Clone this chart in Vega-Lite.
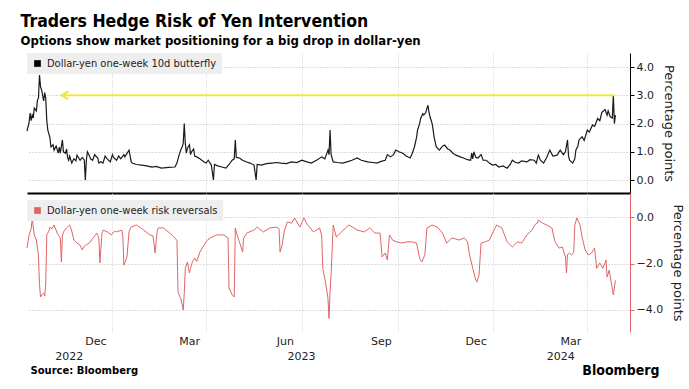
{
  "$schema": "https://vega.github.io/schema/vega-lite/v6.json",
  "padding": {"left": 20, "top": 12, "right": 5, "bottom": 5},
  "background": "#ffffff",
  "title": {
    "text": "Traders Hedge Risk of Yen Intervention",
    "subtitle": "Options show market positioning for a big drop in dollar-yen",
    "anchor": "start",
    "dx": -4,
    "font": "DejaVu Sans Condensed, Liberation Sans Narrow, Roboto",
    "fontSize": 17.5,
    "fontWeight": "bold",
    "color": "#000000",
    "subtitleFont": "DejaVu Sans Condensed, Liberation Sans Narrow, Roboto",
    "subtitleFontSize": 13,
    "subtitleFontWeight": "bold",
    "subtitleColor": "#000000",
    "subtitlePadding": 5,
    "offset": 5
  },
  "datasets": {
    "butterfly": [
      {"date":"2022-09-10","value":1.73},{"date":"2022-09-12","value":2.05},{"date":"2022-09-13","value":2.37},{"date":"2022-09-14","value":2.1},{"date":"2022-09-15","value":2.3},{"date":"2022-09-16","value":2.2},{"date":"2022-09-17","value":2.55},{"date":"2022-09-19","value":2.45},{"date":"2022-09-20","value":2.83},{"date":"2022-09-21","value":2.9},{"date":"2022-09-22","value":3.72},{"date":"2022-09-23","value":3.3},{"date":"2022-09-24","value":3.2},{"date":"2022-09-26","value":2.8},{"date":"2022-09-27","value":3.1},{"date":"2022-09-28","value":2.9},{"date":"2022-09-29","value":2.1},{"date":"2022-09-30","value":1.77},{"date":"2022-10-02","value":1.5},{"date":"2022-10-03","value":1.17},{"date":"2022-10-05","value":1.25},{"date":"2022-10-06","value":1.06},{"date":"2022-10-08","value":1.2},{"date":"2022-10-10","value":0.95},{"date":"2022-10-11","value":1.17},{"date":"2022-10-12","value":0.95},{"date":"2022-10-14","value":1.42},{"date":"2022-10-15","value":1.0},{"date":"2022-10-17","value":0.95},{"date":"2022-10-18","value":1.1},{"date":"2022-10-19","value":0.8},{"date":"2022-10-20","value":0.7},{"date":"2022-10-21","value":0.85},{"date":"2022-10-23","value":0.6},{"date":"2022-10-25","value":0.75},{"date":"2022-10-27","value":0.68},{"date":"2022-10-28","value":0.88},{"date":"2022-10-31","value":0.7},{"date":"2022-11-02","value":0.8},{"date":"2022-11-04","value":0.71},{"date":"2022-11-05","value":0.0},{"date":"2022-11-06","value":0.7},{"date":"2022-11-07","value":1.0},{"date":"2022-11-09","value":0.85},{"date":"2022-11-10","value":0.75},{"date":"2022-11-12","value":0.7},{"date":"2022-11-14","value":0.9},{"date":"2022-11-15","value":0.85},{"date":"2022-11-17","value":0.78},{"date":"2022-11-18","value":0.6},{"date":"2022-11-20","value":0.65},{"date":"2022-11-22","value":0.6},{"date":"2022-11-24","value":0.85},{"date":"2022-11-26","value":0.75},{"date":"2022-11-29","value":0.64},{"date":"2022-12-01","value":0.9},{"date":"2022-12-02","value":0.8},{"date":"2022-12-05","value":0.7},{"date":"2022-12-07","value":0.85},{"date":"2022-12-09","value":0.75},{"date":"2022-12-12","value":0.9},{"date":"2022-12-13","value":0.82},{"date":"2022-12-16","value":1.0},{"date":"2022-12-17","value":1.06},{"date":"2022-12-19","value":0.65},{"date":"2022-12-20","value":0.6},{"date":"2022-12-24","value":0.55},{"date":"2022-12-29","value":0.53},{"date":"2023-01-03","value":0.5},{"date":"2023-01-08","value":0.46},{"date":"2023-01-12","value":0.48},{"date":"2023-01-17","value":0.42},{"date":"2023-01-24","value":0.45},{"date":"2023-01-30","value":0.46},{"date":"2023-02-01","value":0.6},{"date":"2023-02-03","value":0.88},{"date":"2023-02-05","value":1.1},{"date":"2023-02-06","value":1.17},{"date":"2023-02-07","value":1.3},{"date":"2023-02-08","value":2.0},{"date":"2023-02-09","value":1.3},{"date":"2023-02-10","value":0.95},{"date":"2023-02-11","value":1.13},{"date":"2023-02-13","value":1.25},{"date":"2023-02-14","value":0.9},{"date":"2023-02-15","value":1.0},{"date":"2023-02-17","value":1.1},{"date":"2023-02-18","value":0.85},{"date":"2023-02-20","value":0.82},{"date":"2023-02-23","value":0.75},{"date":"2023-02-27","value":0.64},{"date":"2023-03-01","value":0.6},{"date":"2023-03-03","value":0.7},{"date":"2023-03-06","value":0.53},{"date":"2023-03-08","value":0.0},{"date":"2023-03-09","value":0.55},{"date":"2023-03-12","value":0.5},{"date":"2023-03-16","value":0.46},{"date":"2023-03-20","value":0.42},{"date":"2023-03-23","value":0.55},{"date":"2023-03-26","value":0.7},{"date":"2023-03-28","value":0.75},{"date":"2023-03-29","value":1.42},{"date":"2023-03-30","value":0.8},{"date":"2023-04-02","value":0.78},{"date":"2023-04-05","value":0.7},{"date":"2023-04-09","value":0.64},{"date":"2023-04-12","value":0.6},{"date":"2023-04-16","value":0.53},{"date":"2023-04-18","value":0.0},{"date":"2023-04-19","value":0.55},{"date":"2023-04-23","value":0.53},{"date":"2023-04-28","value":0.58},{"date":"2023-05-03","value":0.6},{"date":"2023-05-08","value":0.62},{"date":"2023-05-12","value":0.6},{"date":"2023-05-17","value":0.58},{"date":"2023-05-22","value":0.64},{"date":"2023-05-27","value":0.62},{"date":"2023-06-01","value":0.7},{"date":"2023-06-05","value":0.65},{"date":"2023-06-10","value":0.6},{"date":"2023-06-15","value":0.7},{"date":"2023-06-20","value":0.82},{"date":"2023-06-23","value":0.75},{"date":"2023-06-26","value":1.06},{"date":"2023-06-27","value":0.9},{"date":"2023-06-28","value":1.77},{"date":"2023-06-29","value":0.9},{"date":"2023-07-01","value":0.64},{"date":"2023-07-05","value":0.62},{"date":"2023-07-10","value":0.6},{"date":"2023-07-15","value":0.65},{"date":"2023-07-19","value":0.7},{"date":"2023-07-24","value":0.78},{"date":"2023-07-28","value":0.7},{"date":"2023-08-03","value":0.64},{"date":"2023-08-08","value":0.62},{"date":"2023-08-12","value":0.6},{"date":"2023-08-16","value":0.66},{"date":"2023-08-20","value":0.7},{"date":"2023-08-22","value":0.9},{"date":"2023-08-25","value":0.82},{"date":"2023-08-28","value":0.9},{"date":"2023-08-30","value":1.06},{"date":"2023-09-02","value":1.0},{"date":"2023-09-06","value":0.95},{"date":"2023-09-09","value":0.85},{"date":"2023-09-13","value":0.78},{"date":"2023-09-15","value":0.95},{"date":"2023-09-17","value":1.17},{"date":"2023-09-19","value":1.5},{"date":"2023-09-20","value":1.77},{"date":"2023-09-22","value":2.0},{"date":"2023-09-23","value":2.18},{"date":"2023-09-25","value":2.35},{"date":"2023-09-26","value":2.3},{"date":"2023-09-28","value":2.4},{"date":"2023-09-29","value":2.54},{"date":"2023-09-30","value":2.65},{"date":"2023-10-01","value":2.4},{"date":"2023-10-02","value":2.24},{"date":"2023-10-04","value":2.0},{"date":"2023-10-05","value":1.77},{"date":"2023-10-06","value":1.5},{"date":"2023-10-08","value":1.17},{"date":"2023-10-11","value":1.06},{"date":"2023-10-14","value":1.2},{"date":"2023-10-16","value":1.24},{"date":"2023-10-19","value":1.1},{"date":"2023-10-21","value":1.06},{"date":"2023-10-24","value":0.95},{"date":"2023-10-27","value":0.88},{"date":"2023-10-31","value":0.82},{"date":"2023-11-03","value":0.78},{"date":"2023-11-07","value":0.72},{"date":"2023-11-10","value":0.7},{"date":"2023-11-11","value":0.95},{"date":"2023-11-12","value":0.75},{"date":"2023-11-13","value":1.0},{"date":"2023-11-15","value":0.8},{"date":"2023-11-17","value":0.78},{"date":"2023-11-20","value":0.9},{"date":"2023-11-22","value":0.7},{"date":"2023-11-25","value":0.7},{"date":"2023-11-28","value":0.6},{"date":"2023-12-01","value":0.53},{"date":"2023-12-04","value":0.55},{"date":"2023-12-07","value":0.46},{"date":"2023-12-11","value":0.5},{"date":"2023-12-15","value":0.42},{"date":"2023-12-18","value":0.55},{"date":"2023-12-20","value":0.7},{"date":"2023-12-23","value":0.62},{"date":"2023-12-26","value":0.6},{"date":"2023-12-29","value":0.68},{"date":"2024-01-03","value":0.64},{"date":"2024-01-06","value":0.72},{"date":"2024-01-10","value":0.7},{"date":"2024-01-12","value":0.6},{"date":"2024-01-14","value":0.88},{"date":"2024-01-16","value":0.7},{"date":"2024-01-19","value":0.6},{"date":"2024-01-22","value":0.8},{"date":"2024-01-25","value":1.06},{"date":"2024-01-28","value":0.85},{"date":"2024-02-01","value":0.88},{"date":"2024-02-04","value":1.06},{"date":"2024-02-07","value":0.9},{"date":"2024-02-09","value":1.0},{"date":"2024-02-11","value":1.42},{"date":"2024-02-12","value":0.85},{"date":"2024-02-13","value":0.7},{"date":"2024-02-16","value":0.6},{"date":"2024-02-18","value":0.75},{"date":"2024-02-19","value":1.06},{"date":"2024-02-21","value":1.2},{"date":"2024-02-22","value":1.42},{"date":"2024-02-25","value":1.53},{"date":"2024-02-27","value":1.4},{"date":"2024-03-01","value":1.77},{"date":"2024-03-03","value":1.7},{"date":"2024-03-06","value":1.95},{"date":"2024-03-08","value":1.9},{"date":"2024-03-11","value":2.18},{"date":"2024-03-13","value":2.1},{"date":"2024-03-15","value":2.4},{"date":"2024-03-18","value":2.5},{"date":"2024-03-20","value":2.3},{"date":"2024-03-21","value":2.45},{"date":"2024-03-23","value":2.24},{"date":"2024-03-25","value":2.2},{"date":"2024-03-26","value":3.0},{"date":"2024-03-27","value":2.0},{"date":"2024-03-28","value":2.3}
    ],
    "rr": [
      {"date":"2022-09-10","value":-1.33},{"date":"2022-09-12","value":-0.76},{"date":"2022-09-14","value":-0.5},{"date":"2022-09-15","value":-0.05},{"date":"2022-09-16","value":-0.4},{"date":"2022-09-17","value":-0.76},{"date":"2022-09-19","value":-0.98},{"date":"2022-09-21","value":-1.63},{"date":"2022-09-22","value":-2.9},{"date":"2022-09-23","value":-3.44},{"date":"2022-09-25","value":-3.3},{"date":"2022-09-26","value":-3.27},{"date":"2022-09-27","value":-3.4},{"date":"2022-09-28","value":-2.84},{"date":"2022-09-29","value":-0.76},{"date":"2022-10-01","value":-0.6},{"date":"2022-10-02","value":-0.42},{"date":"2022-10-04","value":-0.5},{"date":"2022-10-06","value":-0.33},{"date":"2022-10-09","value":-0.68},{"date":"2022-10-12","value":-0.9},{"date":"2022-10-13","value":-1.93},{"date":"2022-10-14","value":-0.8},{"date":"2022-10-15","value":-0.63},{"date":"2022-10-18","value":-0.46},{"date":"2022-10-21","value":-0.33},{"date":"2022-10-23","value":-0.6},{"date":"2022-10-25","value":-0.98},{"date":"2022-10-28","value":-1.11},{"date":"2022-10-31","value":-1.2},{"date":"2022-11-02","value":-1.41},{"date":"2022-11-04","value":-1.25},{"date":"2022-11-06","value":-1.19},{"date":"2022-11-09","value":-1.1},{"date":"2022-11-11","value":-0.98},{"date":"2022-11-14","value":-0.8},{"date":"2022-11-16","value":-0.68},{"date":"2022-11-18","value":-0.9},{"date":"2022-11-19","value":-1.97},{"date":"2022-11-21","value":-0.7},{"date":"2022-11-22","value":-0.55},{"date":"2022-11-26","value":-0.63},{"date":"2022-11-30","value":-0.76},{"date":"2022-12-03","value":-0.6},{"date":"2022-12-05","value":-0.63},{"date":"2022-12-10","value":-0.55},{"date":"2022-12-11","value":-0.8},{"date":"2022-12-12","value":-2.06},{"date":"2022-12-15","value":-1.71},{"date":"2022-12-17","value":-0.6},{"date":"2022-12-19","value":-0.42},{"date":"2022-12-24","value":-0.33},{"date":"2022-12-28","value":-0.45},{"date":"2022-12-31","value":-0.55},{"date":"2023-01-06","value":-0.76},{"date":"2023-01-09","value":-0.8},{"date":"2023-01-11","value":-1.54},{"date":"2023-01-13","value":-0.6},{"date":"2023-01-14","value":-0.46},{"date":"2023-01-19","value":-0.46},{"date":"2023-01-25","value":-0.68},{"date":"2023-01-30","value":-0.89},{"date":"2023-02-01","value":-1.0},{"date":"2023-02-02","value":-3.22},{"date":"2023-02-05","value":-3.56},{"date":"2023-02-07","value":-4.0},{"date":"2023-02-08","value":-3.3},{"date":"2023-02-09","value":-2.2},{"date":"2023-02-11","value":-1.93},{"date":"2023-02-13","value":-2.4},{"date":"2023-02-14","value":-2.2},{"date":"2023-02-16","value":-1.9},{"date":"2023-02-18","value":-1.76},{"date":"2023-02-20","value":-1.9},{"date":"2023-02-23","value":-1.5},{"date":"2023-02-27","value":-1.19},{"date":"2023-03-02","value":-1.0},{"date":"2023-03-05","value":-0.89},{"date":"2023-03-11","value":-0.76},{"date":"2023-03-18","value":-0.76},{"date":"2023-03-22","value":-0.89},{"date":"2023-03-23","value":-3.05},{"date":"2023-03-26","value":-3.35},{"date":"2023-03-28","value":-3.44},{"date":"2023-03-29","value":-0.46},{"date":"2023-03-31","value":-0.8},{"date":"2023-04-02","value":-1.06},{"date":"2023-04-05","value":-1.5},{"date":"2023-04-06","value":-0.9},{"date":"2023-04-09","value":-0.68},{"date":"2023-04-16","value":-0.55},{"date":"2023-04-19","value":-0.42},{"date":"2023-04-25","value":-0.63},{"date":"2023-05-01","value":-0.46},{"date":"2023-05-08","value":-0.42},{"date":"2023-05-10","value":-0.5},{"date":"2023-05-11","value":-1.5},{"date":"2023-05-13","value":-1.19},{"date":"2023-05-15","value":-0.6},{"date":"2023-05-18","value":-0.2},{"date":"2023-05-22","value":-0.25},{"date":"2023-05-25","value":-0.03},{"date":"2023-05-30","value":-0.42},{"date":"2023-06-03","value":-0.03},{"date":"2023-06-06","value":-0.3},{"date":"2023-06-09","value":-0.46},{"date":"2023-06-12","value":-0.63},{"date":"2023-06-18","value":-0.46},{"date":"2023-06-20","value":-0.8},{"date":"2023-06-21","value":-2.2},{"date":"2023-06-24","value":-2.9},{"date":"2023-06-26","value":-3.5},{"date":"2023-06-27","value":-4.36},{"date":"2023-06-28","value":-3.2},{"date":"2023-06-29","value":-2.5},{"date":"2023-07-01","value":-0.33},{"date":"2023-07-04","value":-0.85},{"date":"2023-07-09","value":-0.63},{"date":"2023-07-16","value":-0.33},{"date":"2023-07-21","value":-0.46},{"date":"2023-07-24","value":-0.55},{"date":"2023-07-31","value":-0.63},{"date":"2023-08-05","value":-0.46},{"date":"2023-08-10","value":-0.68},{"date":"2023-08-15","value":-0.68},{"date":"2023-08-16","value":-1.2},{"date":"2023-08-17","value":-1.71},{"date":"2023-08-20","value":-1.54},{"date":"2023-08-22","value":-1.84},{"date":"2023-08-24","value":-0.76},{"date":"2023-08-27","value":-0.98},{"date":"2023-08-31","value":-1.06},{"date":"2023-09-05","value":-1.11},{"date":"2023-09-10","value":-1.06},{"date":"2023-09-15","value":-1.06},{"date":"2023-09-19","value":-1.11},{"date":"2023-09-22","value":-1.76},{"date":"2023-09-24","value":-1.93},{"date":"2023-09-27","value":-1.63},{"date":"2023-09-29","value":-0.46},{"date":"2023-10-04","value":-0.33},{"date":"2023-10-09","value":-0.42},{"date":"2023-10-14","value":-0.68},{"date":"2023-10-16","value":-0.9},{"date":"2023-10-18","value":-1.11},{"date":"2023-10-23","value":-0.89},{"date":"2023-10-30","value":-0.98},{"date":"2023-11-04","value":-0.89},{"date":"2023-11-07","value":-1.06},{"date":"2023-11-09","value":-1.63},{"date":"2023-11-12","value":-2.2},{"date":"2023-11-15","value":-2.72},{"date":"2023-11-16","value":-2.8},{"date":"2023-11-18","value":-2.5},{"date":"2023-11-20","value":-1.11},{"date":"2023-11-24","value":-1.06},{"date":"2023-11-28","value":-0.98},{"date":"2023-12-01","value":-0.68},{"date":"2023-12-05","value":-0.33},{"date":"2023-12-10","value":-0.46},{"date":"2023-12-15","value":-1.06},{"date":"2023-12-20","value":-1.28},{"date":"2023-12-25","value":-1.06},{"date":"2023-12-29","value":-1.11},{"date":"2024-01-03","value":-0.76},{"date":"2024-01-08","value":-0.55},{"date":"2024-01-11","value":-0.3},{"date":"2024-01-13","value":-0.25},{"date":"2024-01-14","value":-0.12},{"date":"2024-01-18","value":-0.25},{"date":"2024-01-22","value":-0.33},{"date":"2024-01-27","value":-0.46},{"date":"2024-01-30","value":-1.06},{"date":"2024-02-03","value":-1.33},{"date":"2024-02-06","value":-1.28},{"date":"2024-02-09","value":-1.71},{"date":"2024-02-10","value":-2.4},{"date":"2024-02-11","value":-1.6},{"date":"2024-02-13","value":-1.54},{"date":"2024-02-15","value":-1.63},{"date":"2024-02-17","value":-1.5},{"date":"2024-02-18","value":-0.33},{"date":"2024-02-20","value":-0.03},{"date":"2024-02-23","value":-0.33},{"date":"2024-02-25","value":-0.85},{"date":"2024-02-28","value":-1.41},{"date":"2024-03-02","value":-1.63},{"date":"2024-03-05","value":-1.54},{"date":"2024-03-08","value":-1.33},{"date":"2024-03-10","value":-2.2},{"date":"2024-03-13","value":-1.97},{"date":"2024-03-16","value":-2.2},{"date":"2024-03-19","value":-1.84},{"date":"2024-03-20","value":-2.58},{"date":"2024-03-22","value":-2.28},{"date":"2024-03-24","value":-2.8},{"date":"2024-03-26","value":-3.35},{"date":"2024-03-28","value":-2.72}
    ]
  },
  "spacing": 0,
  "vconcat": [
    {
      "width": 603,
      "height": 140,
      "layer": [
        {
          "data": {"name": "butterfly"},
          "mark": {"type": "line", "strokeWidth": 1.2},
          "encoding": {
            "x": {
              "field": "date", "type": "temporal",
              "scale": {"domain": [{"year": 2022, "month": 9, "date": 10}, {"year": 2024, "month": 4, "date": 11}]},
              "axis": {
                "values": [{"year": 2022, "month": 12, "date": 1}, {"year": 2023, "month": 3, "date": 1}, {"year": 2023, "month": 6, "date": 1}, {"year": 2023, "month": 9, "date": 1}, {"year": 2023, "month": 12, "date": 1}, {"year": 2024, "month": 3, "date": 1}],
                "labels": false, "ticks": false, "title": null,
                "domain": true, "domainColor": "#000000", "domainWidth": 2,
                "grid": true, "gridColor": "#cccccc", "gridDash": [1, 2]
              }
            },
            "y": {
              "field": "value", "type": "quantitative",
              "scale": {"domain": [-0.46, 4.5], "nice": false, "zero": false},
              "axis": {
                "orient": "right", "values": [0, 1, 2, 3, 4], "tickCount": 5, "format": ".1f",
                "labelOverlap": false, "labelBound": false, "labelSeparation": 0, "labelFlush": false,
                "title": "Percentage points", "titleAngle": 90, "titlePadding": 8,
                "titleFontSize": 13, "titleFontWeight": "normal", "titleColor": "#222222",
                "domainColor": "#000000", "tickColor": "#000000", "tickSize": 4,
                "labelPadding": 2, "labelFontSize": 11, "labelColor": "#222222",
                "grid": true, "gridColor": "#bbbbbb", "gridDash": [1, 2]
              }
            },
            "color": {
              "datum": "Dollar-yen one-week 10d butterfly",
              "scale": {"range": ["#1a1a1a"]},
              "legend": {
                "orient": "none", "legendX": 0, "legendY": 0, "title": null,
                "fillColor": "#eeeeee", "padding": 5, "labelFontSize": 11, "labelLimit": 400,
                "labelFont": "DejaVu Sans Condensed, DejaVu Sans",
                "labelColor": "#222222", "symbolType": "square", "symbolSize": 45,
                "encode": {"symbols": {"update": {"fill": {"value": "#000000"}, "stroke": {"value": "#000000"}, "strokeWidth": {"value": 0}}}}
              }
            }
          }
        },
        {
          "data": {"values": [{"start": "2022-10-13", "end": "2024-03-27", "level": 3}]},
          "mark": {"type": "rule", "color": "#f2e44a", "strokeWidth": 2},
          "encoding": {
            "x": {"field": "start", "type": "temporal"},
            "x2": {"field": "end"},
            "y": {"field": "level", "type": "quantitative"}
          }
        },
        {
          "data": {"values": [{"start": "2022-10-13", "level": 3}]},
          "mark": {"type": "point", "shape": "M1.8,-1L0,0L1.8,1", "size": 64, "filled": false, "stroke": "#f2e44a", "strokeWidth": 2, "opacity": 1},
          "encoding": {
            "x": {"field": "start", "type": "temporal"},
            "y": {"field": "level", "type": "quantitative"}
          }
        }
      ]
    },
    {
      "width": 603,
      "height": 139,
      "layer": [
        {
          "data": {"name": "rr"},
          "mark": {"type": "line", "strokeWidth": 1},
          "encoding": {
            "x": {
              "field": "date", "type": "temporal",
              "scale": {"domain": [{"year": 2022, "month": 9, "date": 10}, {"year": 2024, "month": 4, "date": 11}]},
              "axis": {
                "orient": "bottom",
                "values": [{"year": 2022, "month": 12, "date": 1}, {"year": 2023, "month": 3, "date": 1}, {"year": 2023, "month": 6, "date": 1}, {"year": 2023, "month": 9, "date": 1}, {"year": 2023, "month": 12, "date": 1}, {"year": 2024, "month": 3, "date": 1}],
                "format": "%b", "labelOffset": -17, "labelPadding": 3, "labelFlush": false, "labelOverlap": false,
                "ticks": false, "domain": false, "grid": true, "gridColor": "#cccccc", "gridDash": [1, 2],
                "labelFontSize": 11, "labelColor": "#222222",
                "title": "Bloomberg", "titleX": 632, "titleY": 38, "titleAlign": "right", "titleBaseline": "middle",
                "titleFontSize": 14, "titleFontWeight": "bold", "titleFont": "DejaVu Sans Condensed, Liberation Sans Narrow, Roboto", "titleColor": "#000000"
              }
            },
            "y": {
              "field": "value", "type": "quantitative",
              "scale": {"domain": [-4.95, 1.05], "nice": false, "zero": false},
              "axis": {
                "orient": "right", "values": [-4, -2, 0], "format": ".1f", "labelOverlap": false,
                "title": "Percentage points", "titleAngle": 90, "titlePadding": 8,
                "titleFontSize": 13, "titleFontWeight": "normal", "titleColor": "#222222",
                "domainColor": "#e06666", "tickColor": "#e06666", "tickSize": 4,
                "labelPadding": 2, "labelFontSize": 11, "labelColor": "#222222",
                "grid": true, "gridColor": "#bbbbbb", "gridDash": [1, 2]
              }
            },
            "color": {
              "datum": "Dollar-yen one-week risk reversals",
              "scale": {"range": ["#e06666"]},
              "legend": {
                "orient": "none", "legendX": 0, "legendY": 7, "title": null,
                "fillColor": "#eeeeee", "padding": 5, "labelFontSize": 11, "labelLimit": 400,
                "labelFont": "DejaVu Sans Condensed, DejaVu Sans",
                "labelColor": "#222222", "symbolType": "square", "symbolSize": 45,
                "encode": {"symbols": {"update": {"fill": {"value": "#e06666"}, "stroke": {"value": "#e06666"}, "strokeWidth": {"value": 0}}}}
              }
            }
          }
        },
        {
          "data": {"values": [{"date": "2022-10-20", "year": "2022"}, {"date": "2023-05-31", "year": "2023"}, {"date": "2024-02-04", "year": "2024"}]},
          "mark": {"type": "rule", "opacity": 0},
          "encoding": {
            "x": {
              "field": "date", "type": "temporal",
              "axis": {
                "orient": "bottom",
                "values": [{"year": 2022, "month": 10, "date": 20}, {"year": 2023, "month": 5, "date": 31}, {"year": 2024, "month": 2, "date": 4}],
                "format": "%Y", "labelPadding": 18, "labelFlush": false, "labelOverlap": false,
                "ticks": false, "domain": false, "grid": false,
                "labelFontSize": 11, "labelColor": "#222222",
                "title": "Source: Bloomberg", "titleX": 3, "titleY": 38, "titleAlign": "left", "titleBaseline": "middle",
                "titleFontSize": 10, "titleFontWeight": "bold", "titleColor": "#000000"
              }
            }
          }
        }
      ],
      "resolve": {"axis": {"x": "independent"}}
    }
  ],
  "resolve": {
    "scale": {"color": "independent", "y": "independent"},
    "axis": {"y": "independent"},
    "legend": {"color": "independent"}
  },
  "config": {
    "view": {"stroke": null},
    "font": "DejaVu Sans",
    "axis": {"labelFont": "DejaVu Sans", "titleFont": "DejaVu Sans"},
    "legend": {"labelFont": "DejaVu Sans"}
  }
}
